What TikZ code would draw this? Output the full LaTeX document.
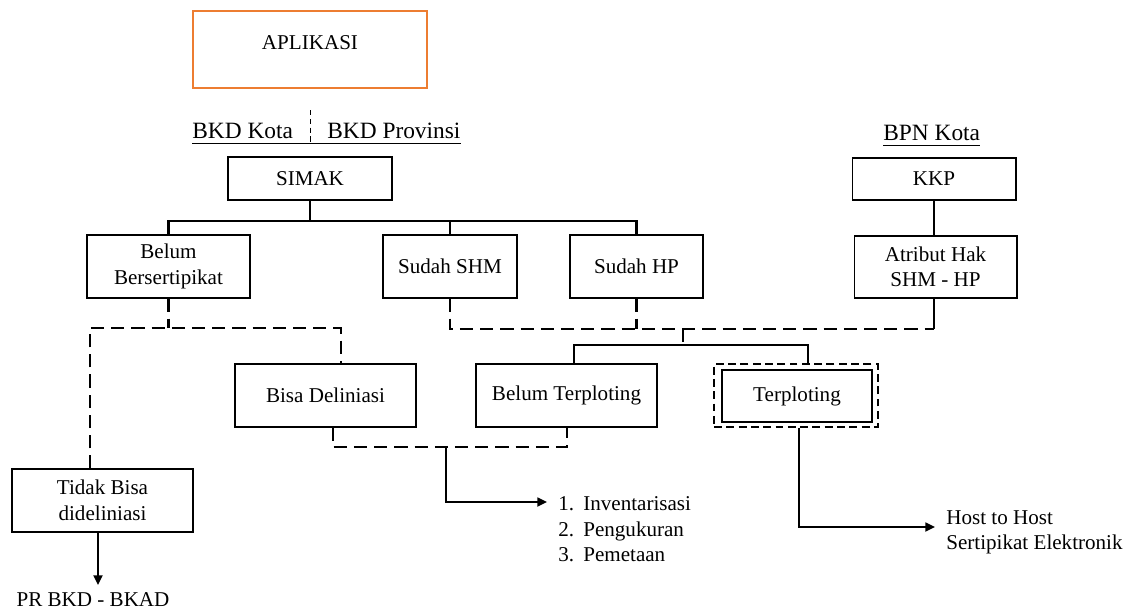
\documentclass[tikz,border=0pt]{standalone}
\usepackage{fontspec}
\setmainfont{Liberation Serif}
\usetikzlibrary{arrows.meta}
\definecolor{boxorange}{RGB}{237,125,49}

\begin{document}
\begin{tikzpicture}[x=0.02cm, y=-0.02cm,
    main node/.style={draw, line width=0.6pt, inner sep=0pt, align=center,
                      font=\fontsize{12}{14.5}\selectfont},
    tall node/.style={main node, minimum height=1.26cm},
    head node/.style={inner sep=0pt, anchor=base west, font=\fontsize{13.3}{16}\selectfont},
    free node/.style={inner sep=0pt, align=left, font=\fontsize{12}{14.7}\selectfont},
    link/.style={line width=1.3pt},
    dash link/.style={line width=1.3pt, dash pattern=on 7.5pt off 4pt},
    arrow link/.style={line width=1.3pt, -{Triangle[length=5.5pt,width=5pt]}}]

  \useasboundingbox (0,0) rectangle (1139,612);

  \node[main node, draw=boxorange, minimum width=4.68cm, minimum height=1.54cm,
        label={[font=\fontsize{12}{14.5}\selectfont, yshift=4pt]center:APLIKASI}] (aplikasi) at (310,49.5) {};

  \node[head node] (kota) at (192,138) {BKD Kota};
  \node[head node] (prov) at (327,138) {BKD Provinsi};
  \node[head node] (bpn) at (883,140) {BPN Kota};

  \node[main node, minimum width=3.28cm, minimum height=0.86cm] (simak) at (310,178.5) {SIMAK};
  \node[main node, minimum width=3.28cm, minimum height=0.84cm] (kkp) at (934,179) {KKP};

  \node[tall node, minimum width=3.26cm] (belum) at (168.5,266.5) {Belum\\Bersertipikat};
  \node[tall node, minimum width=2.68cm] (shm) at (450,266.5) {Sudah SHM};
  \node[tall node, minimum width=2.66cm] (hp) at (636.5,266.5) {Sudah HP};
  \node[main node, minimum width=3.26cm, minimum height=1.24cm] (atribut) at (935.5,267) {Atribut Hak\\SHM - HP};

  \node[tall node, minimum width=3.62cm] (bisa) at (325.5,395.5) {Bisa Deliniasi};
  \node[tall node, minimum width=3.62cm] (belumplot) at (566.5,395.5) {Belum Terploting};
  \node[tall node, minimum width=3.28cm, dash pattern=on 4.5pt off 2.5pt] (tframe) at (796,395.5) {};
  \node[main node, minimum width=3cm, minimum height=1.04cm] (terplot) at (797,396) {Terploting};
  \node[tall node, minimum width=3.62cm] (tidak) at (102.5,500.5) {Tidak Bisa\\dideliniasi};

  \node[free node] (pr) at (93,600) {PR BKD - BKAD};
  \node[free node, anchor=north west] (list) at (558,496)
       {\makebox[14.2pt][l]{1.}Inventarisasi\\\makebox[14.2pt][l]{2.}Pengukuran\\\makebox[14.2pt][l]{3.}Pemetaan};
  \node[free node, anchor=north west] (host) at (946,510) {Host to Host\\Sertipikat Elektronik};

  \coordinate (sep) at (310,110);
  \coordinate (bus) at (0,221);
  \coordinate (dl) at (90,328);
  \coordinate (dr) at (341,328);
  \coordinate (pl) at (0,329);
  \coordinate (pm) at (683,329);
  \coordinate (bl) at (574,345);
  \coordinate (br) at (808,345);
  \coordinate (ml) at (333,447);
  \coordinate (mj) at (446,447);
  \coordinate (mr) at (567,447);
  \coordinate (la) at (547,502);
  \coordinate (ha) at (935,527);
  \coordinate (pa) at (98,585);

  \draw[line width=0.6pt] ([yshift=-3pt]kota.base west) -- ([yshift=-3pt]prov.base east);
  \draw[line width=0.6pt] ([yshift=-3pt]bpn.base west) -- ([yshift=-3pt]bpn.base east);
  \draw[line width=0.5pt, dash pattern=on 3pt off 2pt] (sep) -- ([yshift=-3pt]sep |- kota.base);

  \draw[link] (simak.south) -- (simak.south |- bus);
  \draw[link] (belum.north) |- (hp.north |- bus) -- (hp.north);
  \draw[link] (shm.north) -- (shm.north |- bus);
  \draw[link] (kkp.south) -- (kkp.south |- atribut.north);

  \draw[dash link] (belum.south) -- (belum.south |- dl);
  \draw[dash link] (tidak.north -| dl) -- (dl) -- (dr) -- (bisa.north -| dr);
  \draw[dash link] (shm.south) |- (kkp.south |- pl);
  \draw[dash link] (hp.south) -- (hp.south |- pl);
  \draw[dash link] (pm) -- (pm |- bl);
  \draw[link] (kkp.south |- atribut.south) -- (kkp.south |- pl);
  \draw[link] (belumplot.north -| bl) -- (bl) -- (br) -- (tframe.north -| br);

  \draw[dash link] (bisa.south -| ml) -- (ml) -- (mr) -- (belumplot.south -| mr);
  \draw[arrow link] (mj) |- (la);
  \draw[arrow link] (tframe.south -| 799,0) |- (ha);
  \draw[arrow link] (tidak.south -| pa) -- (pa);

\end{tikzpicture}
\end{document}
